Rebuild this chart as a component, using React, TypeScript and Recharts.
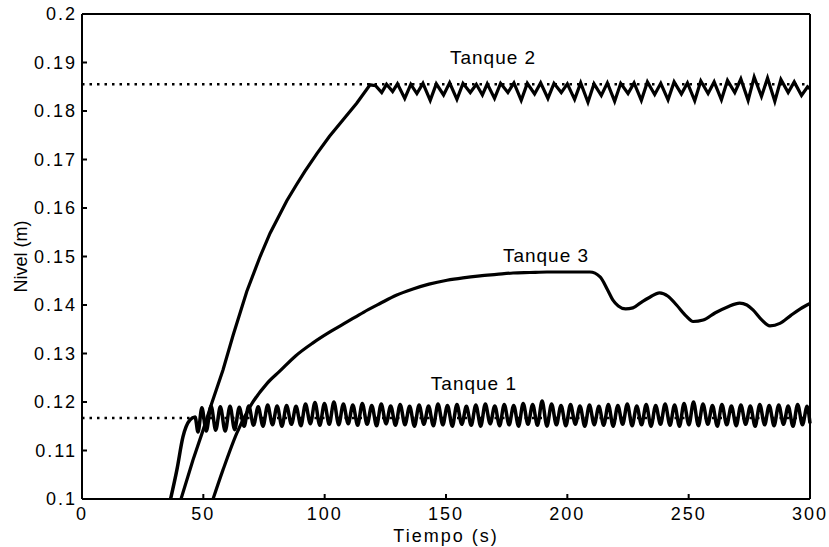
import React from 'react';
import { LineChart, Line, XAxis, YAxis, ReferenceLine, ReferenceDot } from 'recharts';

// Tank 1 (lowest setpoint, fast oscillation)
const tank1Time = [
  36.5, 39.1, 41.6, 44.5, 46.6, 47.8, 49.4, 51.2, 53.2, 55.1, 57.0, 59.0, 61.0, 62.9, 64.8, 66.8,
  68.7, 70.7, 72.6, 74.6, 76.5, 78.5, 80.4, 82.4, 84.3, 86.3, 88.2, 90.2, 92.1, 94.1, 96.0, 98.0,
  99.9, 101.9, 103.8, 105.8, 107.7, 109.7, 111.6, 113.6, 115.5, 117.5, 119.4, 121.4, 123.3, 125.3,
  127.2, 129.2, 131.1, 133.1, 135.0, 137.0, 138.9, 140.9, 142.8, 144.8, 146.7, 148.7, 150.6, 152.6,
  154.5, 156.5, 158.4, 160.4, 162.3, 164.3, 166.2, 168.2, 170.1, 172.1, 174.0, 176.0, 177.9, 179.9,
  181.8, 183.8, 185.7, 187.7, 189.6, 191.6, 193.5, 195.5, 197.4, 199.4, 201.3, 203.3, 205.2, 207.2,
  209.1, 211.1, 213.0, 215.0, 216.9, 218.9, 220.8, 222.8, 224.7, 226.7, 228.6, 230.6, 232.5, 234.5,
  236.4, 238.4, 240.3, 242.3, 244.2, 246.2, 248.1, 250.1, 252.0, 254.0, 255.9, 257.9, 259.8, 261.8,
  263.7, 265.7, 267.6, 269.6, 271.5, 273.5, 275.4, 277.4, 279.3, 281.3, 283.2, 285.2, 287.1, 289.1,
  291.0, 293.0, 294.9, 296.9, 298.8, 300.0,
];
const tank1Level = [
  0.1, 0.106, 0.1128, 0.1163, 0.1169, 0.1138, 0.1188, 0.114, 0.1192, 0.1142, 0.119, 0.114, 0.1191, 0.1143, 0.1189, 0.115,
  0.1192, 0.1152, 0.119, 0.115, 0.1194, 0.1153, 0.1192, 0.115, 0.1193, 0.1154, 0.1191, 0.1151, 0.1196, 0.1155, 0.1199, 0.1152,
  0.1197, 0.1154, 0.12, 0.1153, 0.1196, 0.1155, 0.1194, 0.1152, 0.1197, 0.1154, 0.1193, 0.1151, 0.1196, 0.1155,
  0.1192, 0.1152, 0.1195, 0.1153, 0.1191, 0.115, 0.1194, 0.1154, 0.1192, 0.1151, 0.1196, 0.1153, 0.1193, 0.115,
  0.1195, 0.1154, 0.1191, 0.1152, 0.1194, 0.115, 0.1196, 0.1155, 0.1192, 0.1151, 0.1195, 0.1153, 0.1193, 0.115,
  0.1197, 0.1154, 0.1195, 0.1152, 0.1202, 0.115, 0.1196, 0.1153, 0.1193, 0.1151, 0.1195, 0.1154, 0.1192, 0.115,
  0.1194, 0.1153, 0.1191, 0.1152, 0.1195, 0.115, 0.1193, 0.1154, 0.1196, 0.1151, 0.1192, 0.1153, 0.1195, 0.115,
  0.1193, 0.1154, 0.1196, 0.1152, 0.1194, 0.115, 0.1197, 0.1153, 0.12, 0.1151, 0.1196, 0.1154, 0.1193, 0.115,
  0.1195, 0.1153, 0.1192, 0.1151, 0.1194, 0.1154, 0.1192, 0.115, 0.1195, 0.1153, 0.1193, 0.1151, 0.1194, 0.1154,
  0.1192, 0.115, 0.1195, 0.1153, 0.1191, 0.1156,
];

// Tank 2 (highest setpoint, sawtooth once it arrives)
const tank2Time = [
  40.8, 45.7, 49.9, 53.5, 58.1, 62.3, 67.9, 73.4, 77.5, 84.4, 88.5, 91.9, 96.8, 102, 107.6, 113.2, 118.7,
  121, 123.5, 125.5, 128, 130, 133, 135.5, 138, 140.5, 143.5, 146, 149, 151.5, 154.5, 157, 160, 162.5,
  165, 167, 170, 172.5, 175.5, 178, 181, 183.5, 186.5, 189, 192, 194.5, 197.5, 200, 203, 205.5, 208.5,
  211, 214, 216.5, 219.5, 222, 225, 227.5, 230.5, 233, 236, 238.5, 241.5, 244, 247, 249.5, 252.5, 255,
  258, 260.5, 263.5, 266, 269, 271.5, 274.5, 277, 280, 282.5, 285.5, 288, 291, 293.5, 296.5, 299, 300,
];
const tank2Level = [
  0.1, 0.108, 0.1142, 0.1198, 0.1266, 0.1338, 0.1428, 0.15, 0.1548, 0.1615, 0.1649, 0.1676, 0.1712, 0.1748, 0.1782, 0.1816, 0.1854,
  0.1852, 0.1838, 0.1855, 0.184, 0.1856, 0.1826, 0.1855, 0.1836, 0.1857, 0.1822, 0.1856, 0.1833, 0.1858, 0.1824, 0.1857, 0.1838, 0.1855,
  0.1833, 0.1856, 0.1826, 0.1857, 0.1838, 0.1858, 0.1822, 0.1857, 0.1835, 0.1858, 0.1826, 0.1857, 0.1838, 0.1856, 0.1824, 0.1858, 0.1818,
  0.1856, 0.1832, 0.1858, 0.182, 0.1857, 0.1836, 0.1858, 0.1822, 0.186, 0.1834, 0.1857, 0.1823, 0.186, 0.1835, 0.1858, 0.1821, 0.1862,
  0.1836, 0.186, 0.1823, 0.1863, 0.1838, 0.1866, 0.1822, 0.187, 0.183, 0.1868, 0.182, 0.1865, 0.1838, 0.186, 0.1832, 0.185, 0.1846,
];

// Tank 3 (slow rise, then wavy)
const tank3Time = [
  54, 58.1, 63.8, 69.2, 76.2, 81.6, 88, 95.2, 102, 109.2, 116, 122.8, 129.5, 136.4, 143, 150.4, 157, 164,
  170.8, 177.6, 184.5, 191.6, 200, 209.3, 213.5, 216.5, 218.8, 221, 224, 227, 230, 234, 238, 241.5, 245,
  249, 251.8, 256, 261, 266, 271, 274, 276.5, 280, 283.5, 287.6, 292, 296, 300,
];
const tank3Level = [
  0.1, 0.106, 0.1136, 0.119, 0.1238, 0.1264, 0.1295, 0.1322, 0.1344, 0.1365, 0.1385, 0.1403, 0.142, 0.1433, 0.1443, 0.1451, 0.1456, 0.146,
  0.1463, 0.1466, 0.1467, 0.1468, 0.1468, 0.1468, 0.1458, 0.1432, 0.141, 0.1398, 0.1392, 0.1394, 0.1404, 0.1416, 0.1425, 0.1418, 0.14,
  0.1377, 0.1366, 0.1369, 0.1384, 0.1396, 0.1404, 0.14, 0.139, 0.137, 0.1357, 0.1362, 0.1378, 0.1392, 0.1403,
];

const setpoints = [0.1855, 0.1167];

const annotationText = ['Tanque 1', 'Tanque 2', 'Tanque 3'];
const annotationTime = [161.5, 169.4, 191.2];
const annotationLevel = [0.1238, 0.1911, 0.1502];

const xTicks = [0, 50, 100, 150, 200, 250, 300];
const yTicks = [0.1, 0.11, 0.12, 0.13, 0.14, 0.15, 0.16, 0.17, 0.18, 0.19, 0.2];

const toSeries = (time: number[], level: number[]) => time.map((t, i) => ({ t, level: level[i] }));

const tank1 = toSeries(tank1Time, tank1Level);
const tank2 = toSeries(tank2Time, tank2Level);
const tank3 = toSeries(tank3Time, tank3Level);

const FONT = '"Liberation Sans", Arial, Helvetica, sans-serif';
const tickStyle = { fill: '#000', fontSize: 18, fontFamily: FONT, letterSpacing: 2 };

const YLabel = ({ viewBox }: any) => {
  const cx = 21;
  const cy = viewBox.y + viewBox.height / 2;
  return (
    <text
      x={cx}
      y={cy}
      transform={`rotate(-90 ${cx} ${cy})`}
      textAnchor="middle"
      dominantBaseline="central"
      fontSize={18}
      fontFamily={FONT}
      fill="#000"
    >
      Nivel (m)
    </text>
  );
};

export default function App() {
  return (
    <div style={{ position: 'absolute', left: 0, top: 0, background: '#fff' }}>
      <LineChart width={829} height={547} margin={{ top: 13, right: 18, bottom: 0, left: 0 }}>
        <XAxis
          dataKey="t"
          type="number"
          domain={[0, 300]}
          ticks={xTicks}
          tickSize={-5}
          tickMargin={13}
          height={48}
          stroke="#000"
          strokeWidth={2}
          tick={tickStyle}
          label={{
            value: 'Tiempo (s)',
            position: 'insideBottom',
            offset: 5,
            fill: '#000',
            fontSize: 18,
            fontFamily: FONT,
            letterSpacing: 2,
          }}
        />
        <XAxis
          xAxisId="top"
          orientation="top"
          dataKey="t"
          type="number"
          domain={[0, 300]}
          ticks={xTicks}
          tickSize={-5}
          height={1}
          stroke="#000"
          strokeWidth={2}
          tick={false}
        />
        <YAxis
          type="number"
          domain={[0.1, 0.2]}
          ticks={yTicks}
          allowDataOverflow
          tickSize={-5}
          tickMargin={10}
          width={82}
          stroke="#000"
          strokeWidth={2}
          tick={tickStyle}
          tickFormatter={(v: number) => String(+v.toFixed(2))}
          label={{ content: YLabel }}
        />
        <YAxis
          yAxisId="right"
          orientation="right"
          type="number"
          domain={[0.1, 0.2]}
          ticks={yTicks}
          tickSize={-5}
          width={1}
          stroke="#000"
          strokeWidth={2}
          tick={false}
        />
        {setpoints.map((s) => (
          <ReferenceLine key={s} y={s} stroke="#000" strokeWidth={2.5} strokeDasharray="2.5 5" />
        ))}
        <Line data={tank3} dataKey="level" type="monotone" stroke="#000" strokeWidth={3.2} dot={false} isAnimationActive={false} />
        <Line data={tank2} dataKey="level" type="linear" stroke="#000" strokeWidth={3.2} dot={false} isAnimationActive={false} />
        <Line data={tank1} dataKey="level" type="monotone" stroke="#000" strokeWidth={3.5} dot={false} isAnimationActive={false} />
        {annotationText.map((name, i) => (
          <ReferenceDot
            key={name}
            x={annotationTime[i]}
            y={annotationLevel[i]}
            r={0}
            fill="none"
            stroke="none"
            label={{
              value: name,
              position: 'center',
              fill: '#000',
              fontSize: 19,
              fontFamily: FONT,
              letterSpacing: 1,
            }}
          />
        ))}
      </LineChart>
    </div>
  );
}
